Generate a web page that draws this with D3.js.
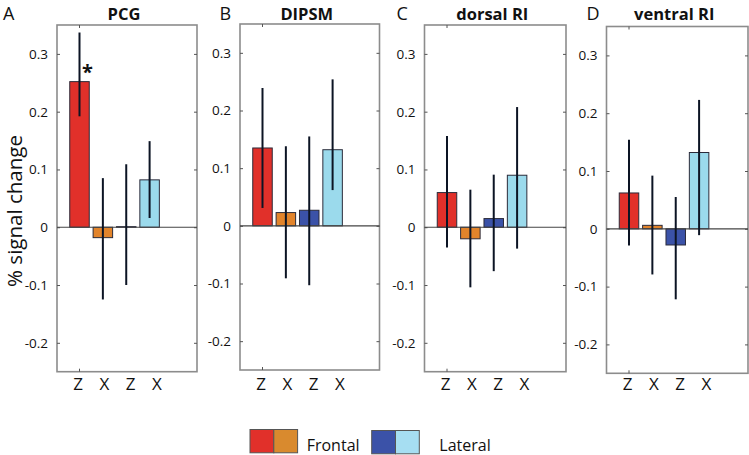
<!DOCTYPE html>
<html>
<head>
<meta charset="utf-8">
<script src="https://cdn.jsdelivr.net/npm/d3@7"></script>
<style>
  html, body { margin: 0; padding: 0; background: #fff; }
  svg { display: block; font-family: "Open Sans", sans-serif; }
</style>
</head>
<body>
<svg id="chart" width="749" height="455"></svg>
<script>
// ---- data ----
const panelTitles = ["PCG", "DIPSM", "dorsal RI", "ventral RI"];
const panelLetters = ["A", "B", "C", "D"];
const conditions = ["Z", "X", "Z", "X"];
const yTicks = [-0.2, -0.1, 0, 0.1, 0.2, 0.3];
const yTickLabels = ["-0.2", "-0.1", "0", "0.1", "0.2", "0.3"];
const yDomain = [-0.25, 0.35];
// mean % signal change per panel: [Frontal Z, Frontal X, Lateral Z, Lateral X]
const meansPCG     = [0.252, -0.018, 0.001, 0.082];
const meansDIPSM   = [0.135, 0.023, 0.027, 0.132];
const meansDorsal  = [0.060, -0.020, 0.015, 0.090];
const meansVentral = [0.062, 0.006, -0.028, 0.132];
const errLowPCG     = [0.192, -0.125, -0.100, 0.016];
const errLowDIPSM   = [0.031, -0.091, -0.103, 0.062];
const errLowDorsal  = [-0.035, -0.104, -0.076, -0.037];
const errLowVentral = [-0.029, -0.079, -0.122, -0.011];
const errHighPCG     = [0.337, 0.085, 0.109, 0.149];
const errHighDIPSM   = [0.239, 0.138, 0.155, 0.254];
const errHighDorsal  = [0.158, 0.065, 0.091, 0.208];
const errHighVentral = [0.154, 0.092, 0.055, 0.223];
const significant = [[true, false, false, false], [false, false, false, false], [false, false, false, false], [false, false, false, false]];
const legendGroups = ["Frontal", "Lateral"];

const means = [meansPCG, meansDIPSM, meansDorsal, meansVentral];
const errLow = [errLowPCG, errLowDIPSM, errLowDorsal, errLowVentral];
const errHigh = [errHighPCG, errHighDIPSM, errHighDorsal, errHighVentral];

// ---- style / layout ----
const barColors = ["#e1302a", "#e2842b", "#3b52a8", "#9bdaec"];
const legendColors = [["#e1302a", "#d98a2e"], ["#3b52a8", "#a6def2"]];
const frames = [
  {left: 57,    right: 197,   top: 25,   bottom: 371.7},
  {left: 240,   right: 379.5, top: 24,   bottom: 370},
  {left: 424.5, right: 566,   top: 25,   bottom: 371.7},
  {left: 606.5, right: 748,   top: 26.5, bottom: 373.3}
];

const svg = d3.select("#chart");

frames.forEach((f, p) => {
  const g = svg.append("g");
  const y = d3.scaleLinear().domain(yDomain).range([f.bottom, f.top]);
  const idx = d3.range(conditions.length);
  const x = d3.scalePoint().domain(idx).range([f.left + 22.5, f.left + 92.6]);
  const xl = d3.scalePoint().domain(idx).range([f.left + 21, f.left + 100]);
  const bw = 19.5;

  // frame
  g.append("rect")
    .attr("x", f.left).attr("y", f.top)
    .attr("width", f.right - f.left).attr("height", f.bottom - f.top)
    .attr("fill", "none").attr("stroke", "#8c8c8c").attr("stroke-width", 1.6);

  // y ticks left and right (inward)
  const yAxisL = d3.axisLeft(y).tickValues(yTicks).tickSize(-3).tickFormat((d, i) => yTickLabels[i]).tickPadding(9);
  const gl = g.append("g").attr("transform", `translate(${f.left},0)`).call(yAxisL);
  gl.select(".domain").remove();
  gl.selectAll(".tick line").attr("stroke", "#555");
  gl.selectAll(".tick text").attr("font-size", 13.5).attr("fill", "#111").attr("font-family", "Open Sans");

  const yAxisR = d3.axisRight(y).tickValues(yTicks).tickSize(-3).tickFormat("");
  const gr = g.append("g").attr("transform", `translate(${f.right},0)`).call(yAxisR);
  gr.select(".domain").remove();
  gr.selectAll(".tick line").attr("stroke", "#555");

  // single x tick at first bar, top and bottom
  g.append("line").attr("x1", x(0)).attr("x2", x(0)).attr("y1", f.bottom).attr("y2", f.bottom - 3).attr("stroke", "#555");
  g.append("line").attr("x1", x(0)).attr("x2", x(0)).attr("y1", f.top).attr("y2", f.top + 3).attr("stroke", "#555");

  // bars
  g.selectAll("rect.bar").data(means[p]).join("rect")
    .attr("class", "bar")
    .attr("x", (d, i) => x(i) - bw / 2)
    .attr("width", bw)
    .attr("y", d => y(Math.max(0, d)))
    .attr("height", d => Math.abs(y(d) - y(0)))
    .attr("fill", (d, i) => barColors[i])
    .attr("stroke", "#2b2b3a").attr("stroke-width", 1);

  // zero line
  g.append("line").attr("x1", f.left).attr("x2", f.right)
    .attr("y1", y(0)).attr("y2", y(0)).attr("stroke", "#444").attr("stroke-width", 1.2);

  // error bars
  g.selectAll("line.err").data(idx).join("line")
    .attr("class", "err")
    .attr("x1", i => x(i)).attr("x2", i => x(i))
    .attr("y1", i => y(errLow[p][i])).attr("y2", i => y(errHigh[p][i]))
    .attr("stroke", "#0c1424").attr("stroke-width", 2);

  // significance
  idx.filter(i => significant[p][i]).forEach(i => {
    g.append("text").attr("x", x(i) + 8).attr("y", y(means[p][i]) - 3)
      .attr("text-anchor", "middle").attr("font-size", 20).attr("font-weight", "bold")
      .attr("fill", "#111").text("*");
  });

  // condition labels
  g.selectAll("text.cond").data(conditions).join("text")
    .attr("class", "cond")
    .attr("x", (d, i) => xl(i)).attr("y", 390)
    .attr("text-anchor", "middle").attr("font-size", 17).attr("fill", "#111")
    .text(d => d);

  // title
  g.append("text").attr("x", (f.left + f.right) / 2 - 3).attr("y", 20)
    .attr("text-anchor", "middle").attr("font-size", 16.5).attr("font-weight", "bold")
    .attr("fill", "#111").text(panelTitles[p]);
});

const letterX = [3, 219.5, 396.5, 586.5];
panelLetters.forEach((l, i) => {
  svg.append("text").attr("x", letterX[i]).attr("y", 20)
    .attr("font-size", 18).attr("fill", "#111").text(l);
});

// y-axis title
svg.append("text")
  .attr("transform", "translate(22,211) rotate(-90)")
  .attr("text-anchor", "middle").attr("font-size", 20.5).attr("fill", "#111")
  .text("% signal change");

// legend
const legendX = [250, 371.7];
const legendTextX = [306.7, 439.3];
legendGroups.forEach((name, gi) => {
  legendColors[gi].forEach((c, k) => {
    svg.append("rect")
      .attr("x", legendX[gi] + k * 23.8).attr("y", 429.5 + gi)
      .attr("width", 23.8).attr("height", 23.3)
      .attr("fill", c).attr("stroke", "#555").attr("stroke-width", 1);
  });
  svg.append("text").attr("x", legendTextX[gi]).attr("y", 450.5)
    .attr("font-size", 16).attr("fill", "#111").text(name);
});
</script>
</body>
</html>
